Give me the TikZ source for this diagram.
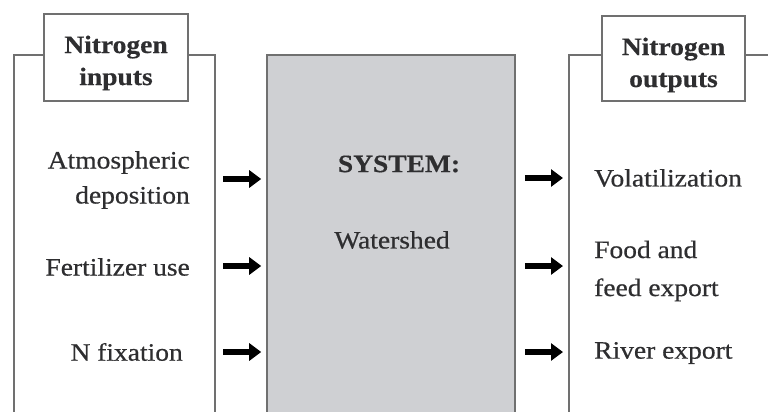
\documentclass[tikz,border=0pt]{standalone}
\usepackage{fontspec}
\setmainfont{Liberation Serif}[FakeBold=0.6, FakeStretch=1.1,
  BoldFeatures={FakeBold=0.4, FakeStretch=1.1}]
\usetikzlibrary{arrows.meta}
\definecolor{framegray}{HTML}{707070}
\definecolor{sysfill}{HTML}{CFD0D3}
\definecolor{ink}{HTML}{2E2E30}
\tikzset{
  frame/.style={draw=framegray, line width=1.6pt, inner sep=0pt},
  titlebox/.style={draw=framegray, line width=1.6pt, fill=white, inner sep=0pt},
  titletext/.style={align=center, text=ink, inner sep=0pt,
    font=\bfseries\fontsize{25}{32}\selectfont},
  lbl/.style={text=ink, font=\fontsize{25}{35}\selectfont, inner sep=0pt},
  flow/.style={line width=6pt, -{Triangle[length=12pt,width=17pt]}, black}
}
\begin{document}
\begin{tikzpicture}[x=1pt, y=-1pt]
  \useasboundingbox (0,0) rectangle (768,412);
  \clip (0,0) rectangle (768,412);
  % input frame, watershed system, output frame (open past the bottom/right edge)
  \node[frame, minimum width=201pt, minimum height=380pt] (inbox) at (114.5,245) {};
  \node[frame, fill=sysfill, minimum width=248pt, minimum height=380pt] (sys) at (391,245) {};
  \node[frame, minimum width=240pt, minimum height=380pt] (outbox) at (689,245) {};
  % frame titles
  \node[titlebox, minimum width=144pt, minimum height=87pt] (intitle) at (116,57.5) {};
  \node[titletext] (intitletxt) at (116,63) {Nitrogen\\inputs};
  \node[titlebox, minimum width=143pt, minimum height=85pt] (outtitle) at (673.5,58.5) {};
  \node[titletext] (outtitletxt) at (673.5,65) {Nitrogen\\outputs};
  % system labels
  \node[lbl, font=\bfseries\fontsize{25}{35}\selectfont] (systxt) at (399,164) {SYSTEM:};
  \node[lbl] (wstxt) at (392,240) {Watershed};
  % input labels
  \node[lbl, anchor=east, align=right] (atm) at (190,180) {Atmospheric\\deposition};
  \node[lbl, anchor=east] (fert) at (190,267) {Fertilizer use};
  \node[lbl, anchor=east] (nfix) at (183,352) {N fixation};
  % output labels
  \node[lbl, anchor=west] (vol) at (594,178) {Volatilization};
  \node[lbl, anchor=west, align=left, font=\fontsize{25}{38}\selectfont] (food) at (594,271) {Food and\\feed export};
  \node[lbl, anchor=west] (river) at (594,353) {River export};
  % flows into the system
  \coordinate (a1) at (223,179);
  \coordinate (a2) at (223,266);
  \coordinate (a3) at (223,352);
  \draw[flow] (a1) -- ([xshift=-5pt]sys.west |- a1);
  \draw[flow] (a2) -- ([xshift=-5pt]sys.west |- a2);
  \draw[flow] (a3) -- ([xshift=-5pt]sys.west |- a3);
  % flows out of the system
  \coordinate (b1) at (563,178);
  \coordinate (b2) at (563,266);
  \coordinate (b3) at (563,352);
  \draw[flow] ([xshift=9pt]sys.east |- b1) -- (b1);
  \draw[flow] ([xshift=9pt]sys.east |- b2) -- (b2);
  \draw[flow] ([xshift=9pt]sys.east |- b3) -- (b3);
\end{tikzpicture}
\end{document}
